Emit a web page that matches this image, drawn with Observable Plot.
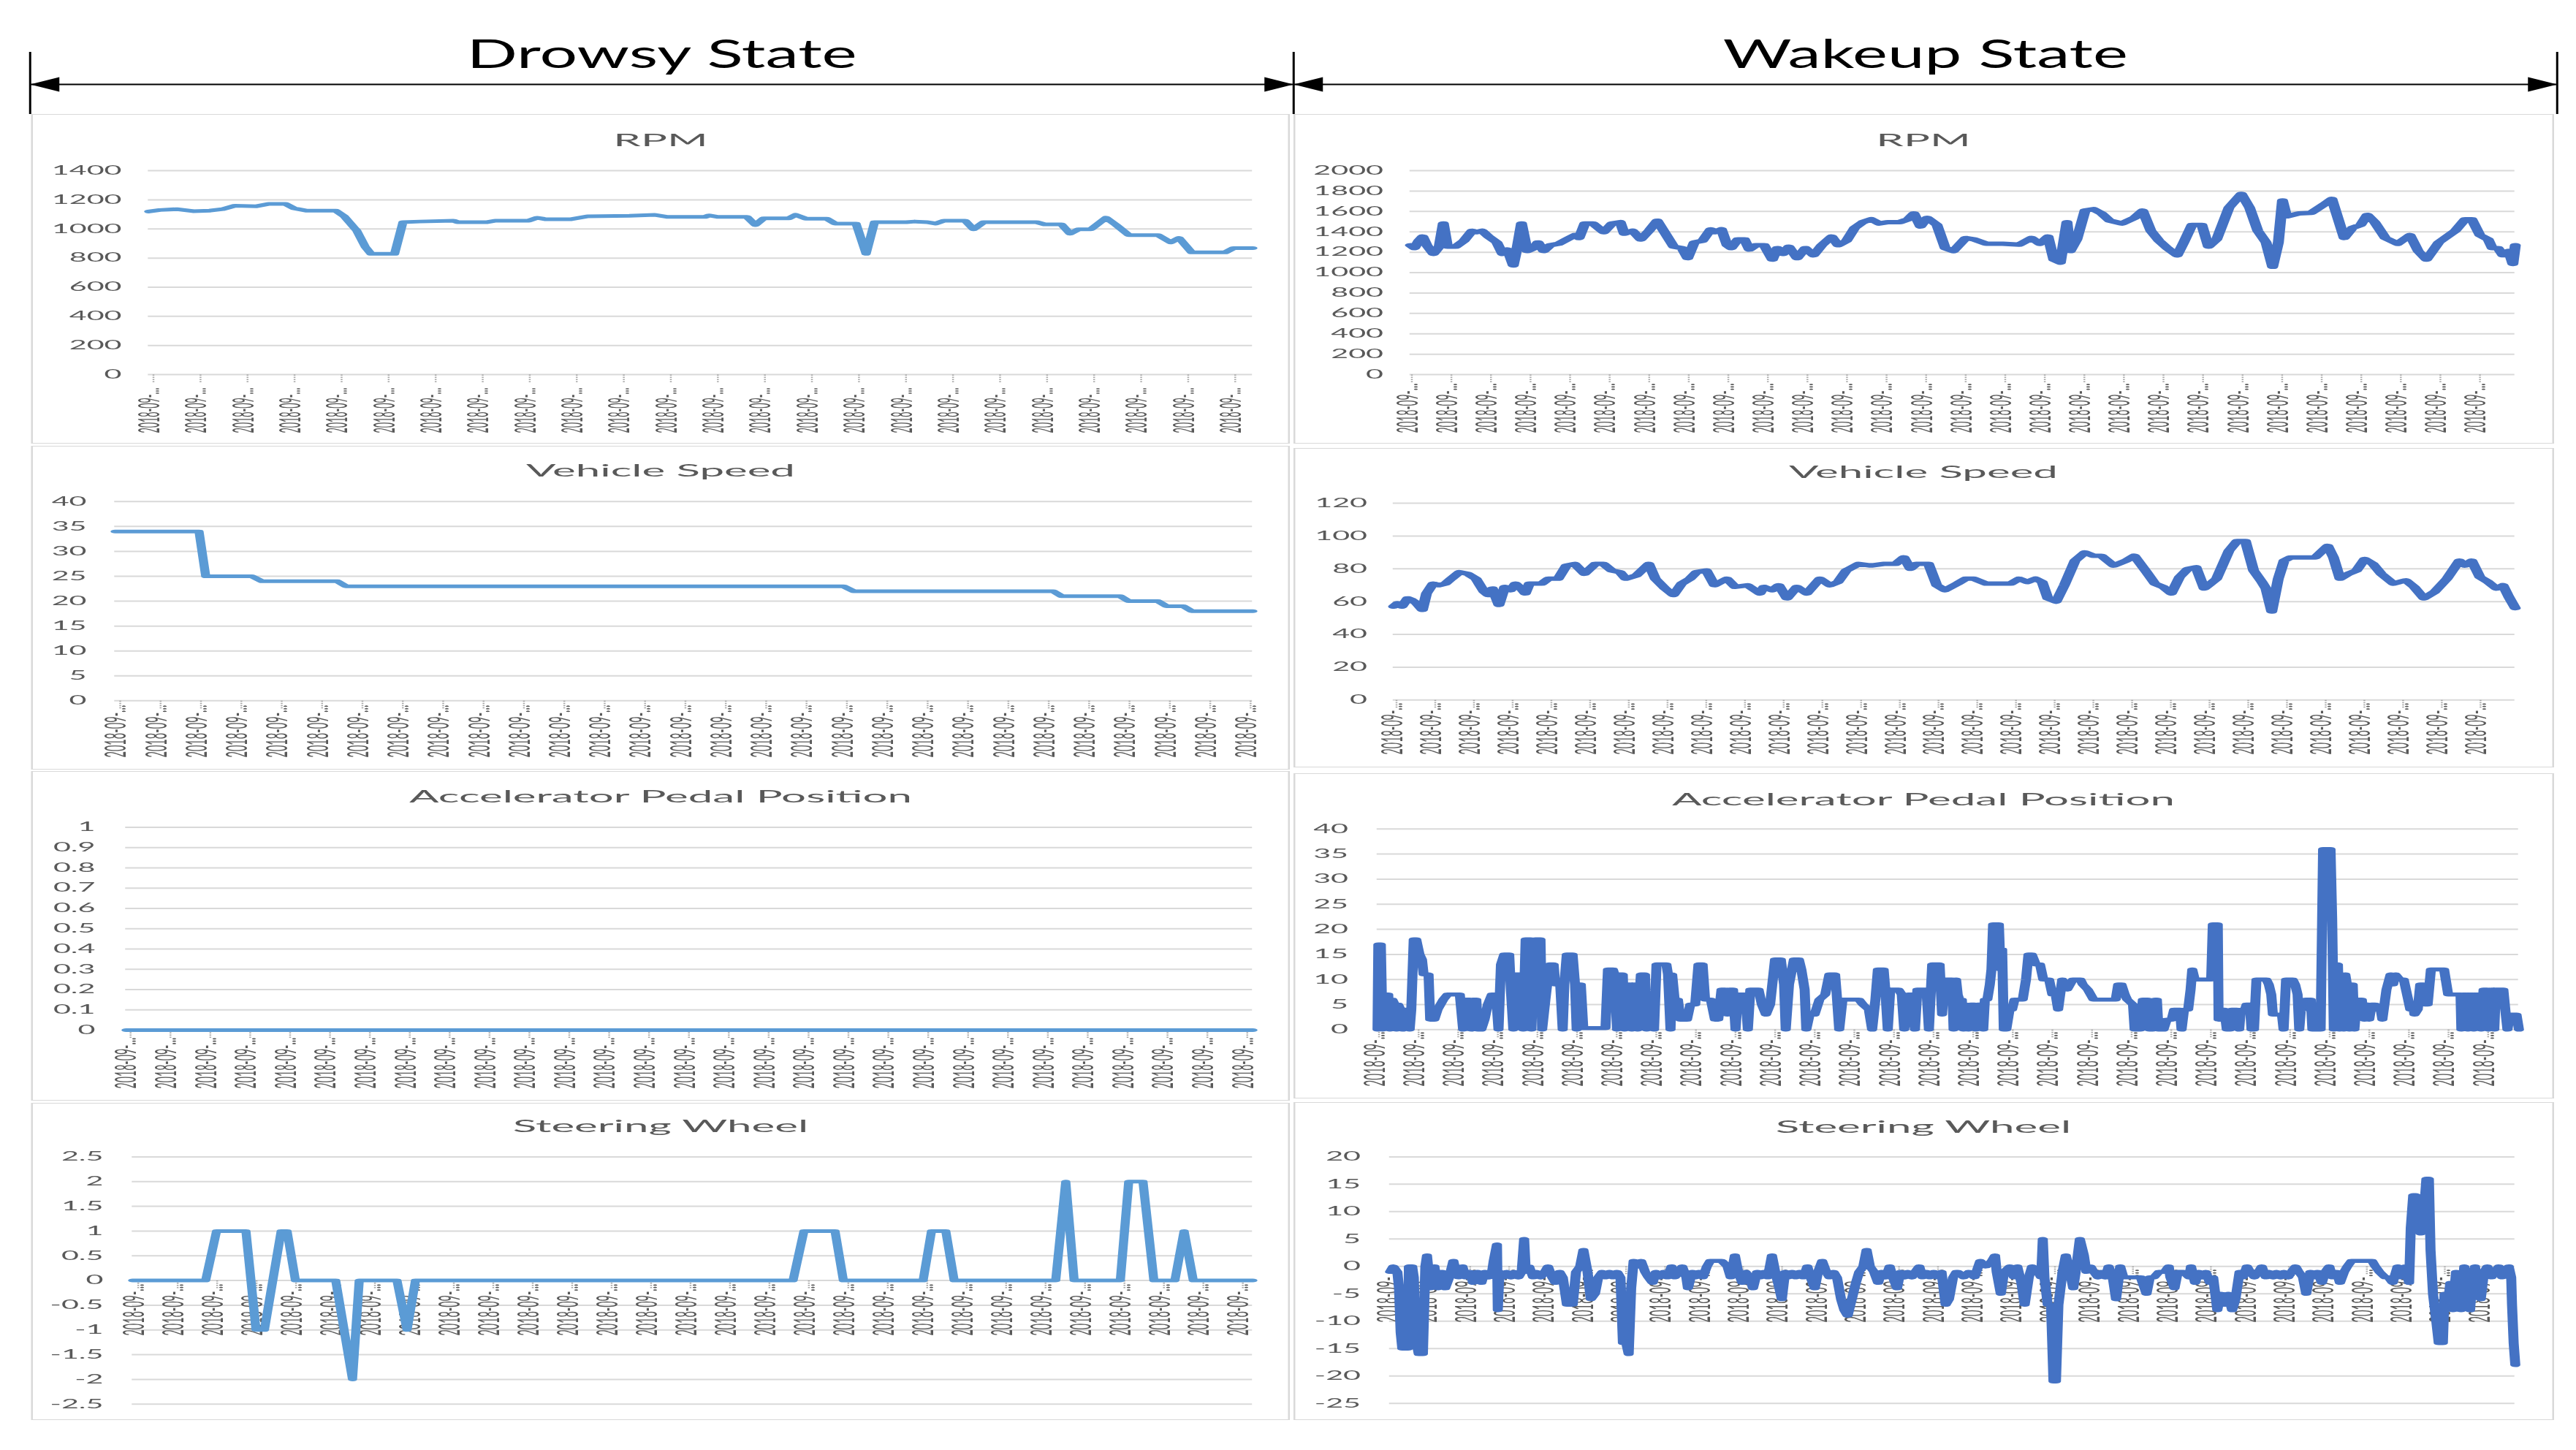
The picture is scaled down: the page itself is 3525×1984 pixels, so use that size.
<!DOCTYPE html>
<html><head><meta charset="utf-8">
<script src="https://cdn.jsdelivr.net/npm/d3@7"></script>
<script src="https://cdn.jsdelivr.net/npm/@observablehq/plot@0.6"></script>
<style>
html,body{margin:0;padding:0;background:#fff;}
body{width:3525px;height:1984px;overflow:hidden;position:relative;}
#stage{position:absolute;left:0;top:0;width:1410px;height:1984px;transform:scaleX(2.5);transform-origin:0 0;font-family:Lato,"Open Sans",sans-serif;}
.panel{position:absolute;box-sizing:border-box;border:1.5px solid #d9d9d9;background:#fff;}
.ptitle{font-size:24px;color:#595959;text-align:center;white-space:nowrap;}
.panel svg{display:block;}
.hdr{position:absolute;left:0;top:0;}
</style></head><body><div id="stage"></div>
<script>
// ---------------- DATA ----------------
const stateNames = ["Drowsy State", "Wakeup State"];
const stateBounds = [0, 1, 2];

const panelTitles = ["RPM", "Vehicle Speed", "Accelerator Pedal Position", "Steering Wheel"];

// y-axis tick values
const drowsyRpmTicks = [0, 200, 400, 600, 800, 1000, 1200, 1400];
const wakeRpmTicks = [0, 200, 400, 600, 800, 1000, 1200, 1400, 1600, 1800, 2000];
const drowsySpeedTicks = [0, 5, 10, 15, 20, 25, 30, 35, 40];
const wakeSpeedTicks = [0, 20, 40, 60, 80, 100, 120];
const drowsyAccTicks = [0, 0.1, 0.2, 0.3, 0.4, 0.5, 0.6, 0.7, 0.8, 0.9, 1];
const wakeAccTicks = [0, 5, 10, 15, 20, 25, 30, 35, 40];
const drowsySteerTicks = [-2.5, -2, -1.5, -1, -0.5, 0, 0.5, 1, 1.5, 2, 2.5];
const wakeSteerTicks = [-25, -20, -15, -10, -5, 0, 5, 10, 15, 20];

// category (time) labels, truncated as in the source
const timeLabel = "2018-09-...";
const drowsyRpmLabels = Array.from({length: 24}, () => timeLabel);
const wakeRpmLabels = Array.from({length: 28}, () => timeLabel);
const drowsySpeedLabels = Array.from({length: 29}, () => timeLabel);
const wakeSpeedLabels = Array.from({length: 29}, () => timeLabel);
const drowsyAccLabels = Array.from({length: 29}, () => timeLabel);
const wakeAccLabels = Array.from({length: 29}, () => timeLabel);
const drowsySteerLabels = Array.from({length: 29}, () => timeLabel);
const wakeSteerLabels = Array.from({length: 29}, () => timeLabel);

// series: [sample, value]
const drowsyRpm = [[0,1120],[13,1130],[33,1136],[53,1122],[73,1126],[88,1136],[103,1160],[128,1156],[143,1172],[163,1172],[173,1142],[188,1126],[223,1126],[233,1087],[248,988],[258,878],[265,829],[293,829],[303,1047],[323,1051],[363,1057],[368,1047],[403,1047],[413,1057],[453,1057],[463,1077],[473,1067],[503,1067],[523,1087],[573,1091],[603,1097],[618,1083],[663,1083],[668,1093],[678,1083],[713,1083],[723,1027],[733,1073],[763,1073],[771,1097],[783,1071],[808,1071],[818,1037],[843,1037],[855,829],[865,1047],[903,1047],[913,1051],[928,1047],[938,1037],[948,1057],[973,1057],[983,998],[995,1047],[1058,1047],[1068,1031],[1088,1031],[1098,968],[1108,998],[1123,998],[1141,1077],[1153,1027],[1168,958],[1203,958],[1218,908],[1228,938],[1243,839],[1283,839],[1293,869],[1316,869]];

const wakeRpm = [[0,1269],[5,1241],[10,1312],[15,1354],[20,1269],[28,1184],[35,1255],[40,1482],[45,1255],[55,1255],[65,1312],[75,1411],[80,1397],[87,1411],[95,1354],[105,1297],[112,1184],[118,1227],[125,1071],[130,1255],[135,1482],[142,1212],[150,1241],[155,1297],[162,1212],[170,1269],[180,1283],[190,1326],[200,1368],[205,1340],[212,1482],[222,1482],[235,1397],[245,1482],[255,1496],[260,1382],[270,1411],[280,1326],[290,1411],[300,1510],[310,1382],[320,1255],[330,1241],[337,1142],[345,1297],[355,1312],[365,1425],[370,1397],[378,1425],[385,1269],[390,1241],[398,1326],[406,1326],[412,1227],[420,1269],[430,1269],[440,1128],[446,1241],[453,1184],[460,1255],[470,1142],[480,1241],[490,1170],[500,1269],[512,1354],[520,1269],[530,1312],[540,1439],[550,1496],[560,1524],[570,1482],[580,1496],[595,1496],[605,1524],[612,1581],[620,1453],[628,1538],[640,1468],[650,1241],[660,1212],[675,1340],[685,1326],[700,1283],[720,1283],[740,1275],[755,1340],[765,1283],[775,1354],[782,1128],[790,1099],[798,1496],[802,1212],[810,1326],[820,1609],[830,1623],[840,1581],[850,1510],[865,1482],[880,1538],[890,1609],[900,1411],[910,1312],[920,1241],[932,1170],[940,1297],[950,1468],[962,1468],[970,1255],[980,1326],[995,1638],[1010,1773],[1020,1638],[1030,1411],[1040,1297],[1048,1057],[1055,1297],[1060,1708],[1065,1552],[1080,1581],[1095,1587],[1110,1666],[1120,1723],[1135,1340],[1145,1439],[1155,1468],[1163,1567],[1172,1496],[1185,1340],[1200,1283],[1215,1368],[1225,1212],[1235,1128],[1250,1297],[1270,1411],[1282,1524],[1290,1524],[1300,1368],[1310,1326],[1315,1241],[1322,1241],[1328,1170],[1335,1212],[1340,1085],[1343,1269]];

const drowsySpeed = [[0,34],[100,34],[108,25],[163,25],[175,24],[265,24],[275,23],[868,23],[880,22],[1118,22],[1128,21],[1198,21],[1208,20],[1243,20],[1253,19],[1273,19],[1283,18],[1356,18]];

const wakeSpeed = [[0,57],[5,59],[10,57],[17,62],[22,61],[28,59],[35,55],[40,65],[48,71],[55,70],[63,71],[70,74],[80,78],[90,77],[100,74],[110,66],[115,64],[120,68],[128,58],[135,69],[142,67],[148,71],[155,68],[160,65],[165,71],[180,71],[188,74],[200,74],[210,82],[220,83],[232,77],[245,83],[255,83],[265,79],[275,78],[282,74],[295,76],[310,83],[318,74],[330,68],[340,64],[350,71],[360,74],[368,78],[380,79],[390,70],[405,74],[415,69],[430,70],[445,65],[450,69],[460,67],[468,70],[478,62],[490,69],[502,65],[518,74],[530,70],[540,72],[550,79],[565,83],[580,82],[595,83],[610,83],[620,87],[628,80],[635,83],[650,83],[660,70],[670,67],[685,71],[695,74],[705,74],[720,71],[750,71],[760,74],[770,72],[780,74],[788,72],[795,62],[805,60],[815,70],[828,85],[840,90],[850,88],[860,88],[875,82],[890,85],[900,88],[915,78],[925,71],[935,69],[945,65],[955,75],[965,80],[975,81],[985,68],[1000,74],[1015,91],[1025,97],[1035,97],[1045,79],[1055,72],[1060,68],[1067,54],[1075,74],[1082,85],[1090,87],[1105,87],[1120,87],[1135,94],[1142,87],[1150,74],[1160,77],[1170,79],[1180,86],[1190,83],[1200,77],[1215,71],[1230,73],[1240,69],[1252,62],[1265,66],[1280,74],[1295,85],[1302,82],[1310,85],[1320,75],[1330,72],[1340,68],[1348,70],[1355,63],[1363,56]];

const drowsyAcc = [[0,0],[1343,0]];

const wakeAcc = [[0,0],[1,17],[4,17],[6,0],[8,4],[11,7],[13,7],[15,0],[18,6],[21,5],[23,0],[25,5],[28,4],[30,0],[33,4],[37,4],[39,0],[41,4],[44,18],[47,18],[51,15],[54,14],[56,11],[62,11],[64,2],[69,2],[73,4],[80,6],[85,7],[100,7],[104,0],[106,6],[112,6],[114,0],[116,6],[120,6],[122,0],[126,0],[130,2],[134,5],[139,7],[144,7],[147,0],[150,13],[154,15],[160,15],[162,8],[165,0],[168,11],[175,11],[177,0],[180,18],[186,18],[187,0],[189,10],[192,18],[198,18],[200,0],[204,6],[209,13],[214,13],[216,9],[222,9],[225,0],[227,9],[230,15],[237,15],[240,9],[242,0],[244,9],[247,9],[250,0.3],[277,0.3],[280,12],[286,12],[288,11],[291,0],[293,11],[298,11],[300,0],[303,9],[307,9],[309,0],[312,9],[316,0],[320,11],[325,11],[327,0],[330,4],[334,4],[336,0],[339,13],[351,13],[353,11],[356,0],[358,11],[361,6],[365,6],[368,2],[376,2],[380,5],[386,5],[390,13],[395,13],[398,6],[405,6],[410,2],[414,2],[418,8],[422,8],[425,3],[428,8],[432,8],[435,0],[438,7],[447,7],[450,0],[453,8],[463,8],[467,5],[472,3],[477,5],[483,14],[490,14],[494,9],[496,0],[500,9],[506,14],[512,14],[515,12],[519,8],[521,0],[525,3],[531,3],[537,6],[544,7],[549,11],[556,11],[558,7],[561,0],[565,6],[585,6],[590,5],[597,4],[601,0],[605,6],[608,12],[615,12],[617,8],[620,0],[623,8],[633,8],[637,7],[640,0],[645,7],[649,7],[653,0],[656,8],[667,8],[670,0],[674,13],[683,13],[686,3],[689,10],[698,10],[700,0],[703,10],[705,7],[707,6],[710,6],[712,0],[714,5],[716,5],[718,0],[721,5],[725,5],[727,0],[730,5],[734,5],[736,0],[738,6],[741,6],[744,9],[746,12],[748,21],[755,21],[757,12],[759,16],[761,0],[764,0],[768,4],[771,4],[774,6],[784,6],[788,10],[791,15],[795,15],[800,13],[805,13],[809,10],[816,10],[820,7],[824,7],[827,4],[832,10],[838,8],[845,10],[854,10],[857,9],[863,8],[870,6],[897,6],[900,9],[904,9],[908,7],[911,6],[918,5],[920,0],[927,0],[930,6],[936,6],[938,0],[942,0],[945,6],[947,6],[949,0],[955,0],[959,2],[965,2],[968,4],[975,4],[977,0],[980,4],[985,4],[988,8],[990,12],[993,10],[1013,10],[1015,21],[1021,21],[1022,2],[1024,2],[1027,4],[1029,4],[1032,0],[1036,0],[1038,4],[1044,4],[1047,0],[1049,4],[1054,4],[1056,5],[1060,5],[1062,0],[1065,0],[1068,10],[1080,10],[1083,9],[1086,7],[1088,3],[1099,3],[1101,0],[1104,10],[1112,10],[1115,9],[1118,7],[1120,0],[1122,4],[1124,4],[1128,6],[1134,6],[1136,0],[1146,0],[1149,36],[1158,36],[1160,22],[1162,0],[1164,13],[1167,13],[1169,0],[1171,11],[1174,0],[1176,11],[1178,9],[1181,0],[1183,9],[1185,9],[1187,0],[1190,6],[1196,6],[1199,2],[1203,5],[1205,2],[1208,5],[1212,5],[1214,4],[1219,4],[1221,2],[1226,8],[1231,11],[1234,9],[1237,11],[1242,10],[1247,10],[1251,7],[1255,4],[1258,5],[1260,3],[1264,4],[1267,9],[1271,9],[1273,5],[1276,5],[1280,12],[1296,12],[1301,7],[1316,7],[1317,0],[1319,7],[1323,7],[1325,0],[1328,7],[1331,7],[1332,0],[1336,7],[1339,7],[1341,0],[1344,8],[1348,8],[1350,0],[1354,8],[1357,0],[1359,8],[1368,8],[1371,3],[1373,0],[1376,3],[1384,3],[1387,0]];

const drowsySteer = [[0,0],[87,0],[100,1],[135,1],[147,-1],[157,-1],[177,1],[184,1],[194,0],[242,0],[262,-2],[270,0],[315,0],[327,-1],[337,0],[787,0],[800,1],[837,1],[847,0],[942,0],[952,1],[969,1],[979,0],[1100,0],[1112,2],[1122,0],[1177,0],[1187,2],[1204,2],[1217,0],[1242,0],[1253,1],[1264,0],[1335,0]];

const wakeSteer = [[0,-1],[4,0],[9,-1],[11,-4],[13,-12],[15,-15],[22,-15],[23,0],[27,0],[29,-2],[31,-13],[35,-16],[40,-16],[43,0],[45,2],[47,-1],[49,-4],[54,0],[58,-4],[63,-1],[67,-4],[72,-2],[77,1],[80,-1],[83,-2],[88,0],[92,-2],[97,-1],[101,-3],[106,-1],[111,-3],[115,-1],[120,-2],[124,-1],[126,1],[130,4],[131,-8],[133,-1],[138,-2],[142,-1],[147,-2],[151,-1],[156,-2],[160,-1],[163,5],[165,-1],[169,0],[174,-2],[178,-1],[183,-2],[188,-1],[192,0],[197,-2],[201,-3],[206,-1],[210,-2],[215,-7],[222,-7],[226,-1],[231,0],[235,3],[240,-1],[244,-6],[249,-5],[253,-2],[258,-1],[262,-2],[267,-1],[271,-2],[276,-1],[280,-2],[283,-14],[287,-14],[290,-16],[293,-4],[296,1],[301,0],[305,1],[310,-1],[314,-2],[319,-3],[323,-1],[328,-2],[333,-1],[337,-2],[342,0],[346,-2],[351,-1],[355,0],[360,-2],[362,-4],[367,-1],[371,-2],[376,-1],[380,-2],[385,0],[389,1],[396,1],[403,1],[410,0],[414,-2],[419,2],[423,-1],[428,-3],[432,-1],[437,-2],[441,-4],[446,-1],[450,-2],[455,-1],[459,-2],[464,2],[468,-1],[473,-4],[476,-6],[480,-1],[484,-2],[489,-1],[493,-2],[498,-1],[502,-2],[507,0],[511,-2],[516,-4],[520,-1],[525,1],[530,-1],[534,-2],[539,-1],[543,-2],[548,-6],[552,-8],[556,-9],[561,-6],[566,-3],[570,-1],[575,0],[579,3],[583,0],[588,-1],[593,-3],[597,-1],[602,-2],[607,0],[611,-2],[616,-4],[620,-1],[625,-2],[629,-1],[634,-2],[638,-1],[643,0],[647,-2],[652,-1],[656,-2],[661,-1],[665,-2],[670,-1],[675,-7],[679,-6],[684,-2],[688,-1],[690,-1],[697,-2],[703,-1],[710,-2],[717,1],[724,0],[731,1],[735,2],[737,-1],[742,-5],[746,-1],[753,0],[758,-2],[762,0],[767,-3],[771,-7],[776,-2],[780,0],[787,-1],[791,-2],[793,5],[795,-2],[799,-7],[803,-7],[806,-21],[809,-21],[812,-7],[817,-1],[821,2],[826,-1],[830,-4],[833,-1],[838,5],[843,2],[846,-1],[851,0],[855,-1],[860,-2],[864,-1],[869,-2],[873,0],[878,-2],[882,-6],[887,0],[891,-2],[898,-2],[905,-2],[912,-2],[919,-5],[923,-2],[928,-2],[934,-1],[941,-1],[946,0],[948,-2],[953,-4],[957,-1],[964,-1],[971,-2],[973,0],[978,-3],[982,-1],[987,-2],[991,-1],[996,-3],[1000,-2],[1005,-8],[1009,-5],[1014,-7],[1018,-5],[1023,-8],[1027,-6],[1032,-1],[1036,-2],[1041,0],[1045,-1],[1050,-2],[1055,-1],[1059,0],[1064,-2],[1068,-1],[1073,-2],[1077,-1],[1082,-2],[1086,-1],[1091,-2],[1095,-1],[1100,0],[1104,-1],[1109,-2],[1113,-5],[1118,-1],[1122,-2],[1127,-1],[1132,-3],[1136,-1],[1141,0],[1145,-2],[1150,-1],[1154,-3],[1159,-1],[1163,0],[1168,1],[1172,1],[1179,1],[1186,1],[1193,1],[1197,0],[1202,-1],[1209,-2],[1213,-2],[1218,-3],[1222,-1],[1224,0],[1229,-2],[1233,0],[1238,-3],[1240,7],[1243,13],[1246,13],[1248,8],[1252,6],[1256,10],[1259,16],[1262,16],[1264,3],[1267,-5],[1271,-10],[1274,-14],[1279,-14],[1281,-5],[1285,-7],[1288,-3],[1291,-8],[1295,-1],[1298,-3],[1301,-8],[1305,0],[1308,-5],[1312,-8],[1315,-2],[1318,0],[1322,-4],[1325,-6],[1329,-1],[1333,0],[1338,-2],[1342,-1],[1347,0],[1351,-2],[1356,-1],[1359,0],[1362,-2],[1363,-7],[1365,-14],[1367,-18]];

// ---------------- LAYOUT (full-size pixel coordinates) ----------------
const S = 2.5;               // horizontal stretch of the source figure
const DROWSY = "#5B9BD5", WAKE = "#4472C4";
const panels = [
  {title: panelTitles[0], data: drowsyRpm, yTicks: drowsyRpmTicks, xLabels: drowsyRpmLabels, color: DROWSY, sw: 5,
   box: [42,156,1766,607], baseline: 201, grid: [203,1714], yTop: 234, yBot: 513, yLabelRight: 166, tickFrac: [0.0043,0.984], labelTop: 531, labelLen: 62},
  {title: panelTitles[0], data: wakeRpm, yTicks: wakeRpmTicks, xLabels: wakeRpmLabels, color: WAKE, sw: 6,
   box: [1769,156,3495,607], baseline: 201, grid: [1929,3441], yTop: 234, yBot: 513, yLabelRight: 1892, tickFrac: [0.0013,0.968], labelTop: 525, labelLen: 68},
  {title: panelTitles[1], data: drowsySpeed, yTicks: drowsySpeedTicks, xLabels: drowsySpeedLabels, color: DROWSY, sw: 5,
   box: [42,610,1766,1053], baseline: 653, grid: [157,1714], yTop: 686.7, yBot: 959.3, yLabelRight: 118, tickFrac: [0.0045,0.998], labelTop: 965, labelLen: 72},
  {title: panelTitles[1], data: wakeSpeed, yTicks: wakeSpeedTicks, xLabels: wakeSpeedLabels, color: WAKE, sw: 6,
   box: [1769,613,3495,1050], baseline: 655, grid: [1906,3441], yTop: 689, yBot: 958.3, yLabelRight: 1870, tickFrac: [0.0026,0.969], labelTop: 962, labelLen: 71},
  {title: panelTitles[2], data: drowsyAcc, yTicks: drowsyAccTicks, xLabels: drowsyAccLabels, color: DROWSY, sw: 5,
   box: [42,1055,1766,1506], baseline: 1099, grid: [172,1714], yTop: 1132.3, yBot: 1410, yLabelRight: 130, tickFrac: [0.004,0.995], labelTop: 1420, labelLen: 70},
  {title: panelTitles[2], data: wakeAcc, yTicks: wakeAccTicks, xLabels: wakeAccLabels, color: WAKE, sw: 5.5,
   box: [1769,1058,3495,1503], baseline: 1103, grid: [1884,3446], yTop: 1134.7, yBot: 1409.3, yLabelRight: 1844, tickFrac: [0.0013,0.973], labelTop: 1412, labelLen: 75},
  {title: panelTitles[3], data: drowsySteer, yTicks: drowsySteerTicks, xLabels: drowsySteerLabels, color: DROWSY, sw: 5,
   box: [42,1509,1766,1943], baseline: 1550, grid: [181,1714], yTop: 1583.3, yBot: 1921.7, yLabelRight: 141, tickFrac: [0.005,0.991], labelTop: 1757, labelLen: 71},
  {title: panelTitles[3], data: wakeSteer, yTicks: wakeSteerTicks, xLabels: wakeSteerLabels, color: WAKE, sw: 5.5,
   box: [1769,1508,3495,1943], baseline: 1551, grid: [1901,3441], yTop: 1583.3, yBot: 1920.7, yLabelRight: 1861, tickFrac: [0.002,0.972], labelTop: 1737, labelLen: 73}
];

const header = {left: 40, right: 3498, top: 71, bottom: 156, arrowY: 115, textBaseline: 92, fontSize: 54, textWidths: [534, 554]};

// ---------------- RENDER ----------------
const stage = document.getElementById("stage");

const headRight = {draw(ctx) { ctx.moveTo(0, 0); ctx.lineTo(-16, -10); ctx.lineTo(-16, 10); ctx.closePath(); }};
const headLeft  = {draw(ctx) { ctx.moveTo(0, 0); ctx.lineTo(16, -10); ctx.lineTo(16, 10); ctx.closePath(); }};
const tickMark  = {draw(ctx) { ctx.moveTo(0, 0); ctx.lineTo(0, 11); }};

// header with the two state spans
{
  const H = header.bottom + 2;
  const spans = stateNames.map((name, i) => ({name, from: stateBounds[i], to: stateBounds[i + 1]}));
  const yOf = (py) => (header.bottom - py) / (header.bottom - header.top);
  const svg = Plot.plot({
    width: 3525 / S, height: H,
    marginLeft: header.left / S, marginRight: (3525 - header.right) / S,
    marginTop: header.top, marginBottom: H - header.bottom,
    x: {domain: [0, 2], axis: null},
    y: {domain: [0, 1], axis: null},
    style: {background: "transparent", overflow: "visible", fontFamily: "Lato, 'Open Sans', sans-serif"},
    marks: [
      Plot.ruleX(stateBounds, {stroke: "black", strokeWidth: 1.2}),
      Plot.link(spans, {x1: "from", x2: "to", y1: yOf(header.arrowY), y2: yOf(header.arrowY), stroke: "black", strokeWidth: 2}),
      Plot.dot(spans, {x: "from", y: yOf(header.arrowY), symbol: headLeft, fill: "black", stroke: "none"}),
      Plot.dot(spans, {x: "to", y: yOf(header.arrowY), symbol: headRight, fill: "black", stroke: "none"}),
      Plot.text(spans, {x: d => (d.from + d.to) / 2, y: yOf(header.textBaseline), text: "name", fontSize: header.fontSize, lineAnchor: "bottom", fill: "black"})
    ]
  });
  svg.classList.add("hdr");
  svg.querySelectorAll('g[aria-label="text"] text').forEach((t, i) => {
    t.setAttribute("textLength", header.textWidths[i] / S);
    t.setAttribute("lengthAdjust", "spacingAndGlyphs");
  });
  stage.appendChild(svg);
}

function drawPanel(cfg) {
  const [L, T, R, B] = cfg.box;
  const border = 1.5, fs = 24;
  const div = document.createElement("div");
  div.className = "panel";
  div.style.left = (L / S) + "px";
  div.style.top = T + "px";
  div.style.width = ((R - L) / S) + "px";
  div.style.height = (B - T) + "px";

  const innerTop = T + border;
  const Ht = 2 * (cfg.baseline - innerTop - 0.987 * fs) + 1.2 * fs;
  const title = document.createElement("div");
  title.className = "ptitle";
  title.textContent = cfg.title;
  title.style.height = Ht + "px";
  title.style.lineHeight = Ht + "px";
  div.appendChild(title);

  const svgTop = innerTop + Ht;
  const svgH = (B - T) - 2 * border - Ht;
  const svgW = (R - L) / S - 2 * border;
  const svgLeft = L / S + border;
  const yMin = cfg.yTicks[0], yMax = cfg.yTicks[cfg.yTicks.length - 1];
  const zeroY = cfg.yTop + (yMax - 0) / (yMax - yMin) * (cfg.yBot - cfg.yTop);
  const tMax = cfg.data[cfg.data.length - 1][0];
  const n = cfg.xLabels.length;
  const [f0, f1] = cfg.tickFrac;
  const tickPos = cfg.xLabels.map((_, j) => tMax * (f0 + (f1 - f0) * j / (n - 1)));

  const svg = Plot.plot({
    width: svgW, height: svgH,
    marginLeft: cfg.grid[0] / S - svgLeft,
    marginRight: svgLeft + svgW - cfg.grid[1] / S,
    marginTop: cfg.yTop - svgTop,
    marginBottom: svgTop + svgH - cfg.yBot,
    x: {domain: [0, tMax], axis: null},
    y: {domain: [yMin, yMax]},
    style: {background: "transparent", overflow: "visible", color: "#595959", fontFamily: "Lato, 'Open Sans', sans-serif"},
    marks: [
      Plot.gridY(cfg.yTicks, {stroke: "#d9d9d9", strokeOpacity: 1, strokeWidth: 2}),
      Plot.axisY(cfg.yTicks, {tickSize: 0, tickPadding: (cfg.grid[0] - cfg.yLabelRight) / S, fontSize: 16.5, tickFormat: d => String(d), label: null}),
      Plot.dot(tickPos, {x: d => d, y: 0, symbol: tickMark, fill: "none", stroke: "#a6a6a6", strokeWidth: 1, strokeDasharray: "1.5,1.5"}),
      Plot.text(tickPos, {x: d => d, y: 0, text: (d, i) => cfg.xLabels[i], rotate: -90, textAnchor: "end", dy: cfg.labelTop - zeroY, dx: -2, fontSize: 16, fill: "#595959"}),
      Plot.line(cfg.data, {x: d => d[0], y: d => d[1], stroke: cfg.color, strokeWidth: cfg.sw, strokeLinejoin: "round", strokeLinecap: "round"})
    ]
  });
  svg.querySelectorAll('g[aria-label="text"] text').forEach(t => {
    t.setAttribute("textLength", cfg.labelLen);
    t.setAttribute("lengthAdjust", "spacingAndGlyphs");
  });
  div.appendChild(svg);
  stage.appendChild(div);
}

panels.forEach(drawPanel);
</script>
</body></html>
